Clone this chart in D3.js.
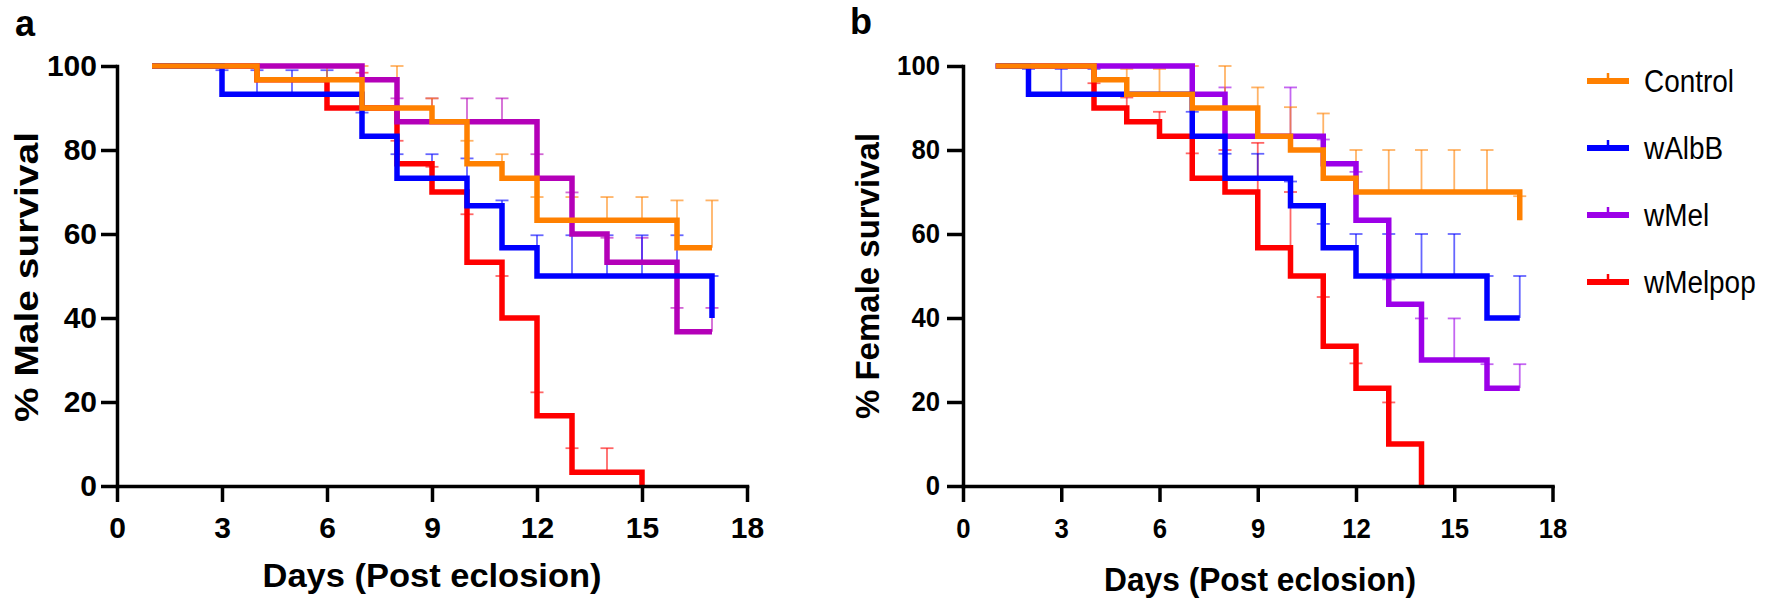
<!DOCTYPE html>
<html><head><meta charset="utf-8">
<script src="https://cdn.jsdelivr.net/npm/d3@7"></script>
<style>
body{margin:0;background:#fff}
svg{display:block}
text{font-family:"Liberation Sans",Arial,Helvetica,sans-serif;fill:#000}
</style>
</head><body>
<svg id="chart" width="1772" height="602"></svg>
<script>
// ---------- data ----------
const xTicks = [0, 3, 6, 9, 12, 15, 18];
const yTicks = [0, 20, 40, 60, 80, 100];
const groups = ["Control", "wAlbB", "wMel", "wMelpop"];

// Male survival (step points: [day, % surviving])
const maleControl = [[1,100],[4,96.7],[7,90],[9,86.7],[10,76.7],[11,73.3],[12,63.3],[16,56.7],[17,56.7]];
const maleWAlbB   = [[1,100],[3,93.3],[7,83.3],[8,73.3],[10,66.7],[11,56.7],[12,50],[17,40]];
const maleWMel    = [[1,100],[7,96.7],[8,86.7],[12,73.3],[13,60],[14,53.3],[16,36.7],[17,36.7]];
const maleWMelpop = [[1,100],[4,96.7],[6,90],[8,76.7],[9,70],[10,53.3],[11,40],[12,16.7],[13,3.3],[15,0]];
// Male error bar tops: [day, upper value]
const maleControlErr = [[6,100],[7,100],[8,100],[9,92.3],[10,82.2],[11,79],[12,68.8],[13,68.8],[14,68.8],[15,68.8],[16,68],[17,68]];
const maleWAlbBErr   = [[3,99],[4,99],[5,99],[6,99],[7,88.9],[8,79],[9,79],[10,78],[11,68],[12,59.7],[13,59.7],[14,59.7],[15,59.7],[16,59.7],[17,50]];
const maleWMelErr    = [[8,92.3],[9,92.3],[10,92.3],[11,92.3],[12,79],[13,69.9],[14,59.1],[15,59.1],[16,42.4],[17,42.4]];
const maleWMelpopErr = [[7,98.4],[8,82.2],[9,76],[10,64.7],[11,50],[12,22.3],[13,9],[14,9]];

// Female survival
const femaleControl = [[1,100],[4,96.7],[5,93.3],[7,90],[9,83.3],[10,80],[11,73.3],[12,70],[17,63.3]];
const femaleWAlbB   = [[1,100],[2,93.3],[7,83.3],[8,73.3],[10,66.7],[11,56.7],[12,50],[16,40],[17,40]];
const femaleWMel    = [[1,100],[7,93.3],[8,83.3],[11,76.7],[12,63.3],[13,43.3],[14,30],[16,23.3],[17,23.3]];
const femaleWMelpop = [[1,100],[4,90],[5,86.7],[6,83.3],[7,73.3],[8,70],[9,56.7],[10,50],[11,33.3],[12,23.3],[13,10],[14,0]];
const femaleControlErr = [[5,99.3],[6,99.3],[7,100],[8,100],[9,94.9],[10,90.2],[11,88.7],[12,80],[13,80],[14,80],[15,80],[16,80],[17,69]];
const femaleWAlbBErr   = [[2,99.3],[3,99.3],[4,99.3],[7,89.1],[8,79.1],[9,79.1],[10,72.5],[11,62.4],[12,60],[13,60],[14,60],[15,60],[16,50],[17,50]];
const femaleWMelErr    = [[8,94.9],[10,94.9],[11,82.5],[12,74.8],[13,49.2],[14,39.9],[15,39.9],[16,29],[17,29]];
const femaleWMelpopErr = [[4,95.9],[5,92.5],[6,89.1],[7,79.2],[8,80],[9,81.7],[10,70],[11,45],[12,29.2],[13,19.9]];

// ---------- drawing ----------
const svg = d3.select("#chart");
const colorsA = {Control:"#ff8000", wAlbB:"#0000ff", wMel:"#b400b8", wMelpop:"#ff0000"};
const colorsB = {Control:"#ff8000", wAlbB:"#0000ff", wMel:"#9c00e8", wMelpop:"#ff0000"};

const panels = [
  {label:"a", lx:15, ly:36, x0:117, x1:747, yTitle:"% Male survival", ytx:38, yFont:34, yLen:290, yMid:277,
   xtX:432, xtY:587, xtFont:34, xtLen:339, tickFont:30, narrow:false, colors:colorsA,
   series:{Control:maleControl, wAlbB:maleWAlbB, wMel:maleWMel, wMelpop:maleWMelpop},
   err:{Control:maleControlErr, wAlbB:maleWAlbBErr, wMel:maleWMelErr, wMelpop:maleWMelpopErr}},
  {label:"b", lx:850, ly:34, x0:963, x1:1552.5, yTitle:"% Female survival", ytx:879, yFont:33, yLen:null, yMid:276,
   xtX:1260, xtY:591, xtFont:33, xtLen:312, tickFont:28, narrow:true, colors:colorsB,
   series:{Control:femaleControl, wAlbB:femaleWAlbB, wMel:femaleWMel, wMelpop:femaleWMelpop},
   err:{Control:femaleControlErr, wAlbB:femaleWAlbBErr, wMel:femaleWMelErr, wMelpop:femaleWMelpopErr}}
];
const yTop = 66, yBot = 486;
const drawOrder = ["wMelpop", "wMel", "wAlbB", "Control"];

function valueAt(steps, d){
  let v = steps[0][1];
  for (const s of steps){ if (s[0] <= d + 1e-9) v = s[1]; }
  return v;
}

panels.forEach(p => {
  const x = d3.scaleLinear().domain([0, 18]).range([p.x0, p.x1]);
  const y = d3.scaleLinear().domain([0, 100]).range([yBot, yTop]);
  const g = svg.append("g");

  // error bars (under lines)
  drawOrder.forEach(k => {
    const steps = p.series[k];
    const col = p.colors[k];
    const eg = g.append("g").attr("stroke", col).attr("stroke-opacity", 0.6).attr("stroke-width", 1.8).attr("fill","none");
    p.err[k].forEach(e => {
      const base = valueAt(steps, e[0]);
      const xx = x(e[0]);
      eg.append("line").attr("x1", xx).attr("x2", xx).attr("y1", y(base)).attr("y2", y(e[1]));
      eg.append("line").attr("x1", xx - 6.5).attr("x2", xx + 6.5).attr("y1", y(e[1])).attr("y2", y(e[1]));
    });
  });

  // survival step lines
  const line = d3.line().x(d => x(d[0])).y(d => y(d[1])).curve(d3.curveStepAfter);
  drawOrder.forEach(k => {
    g.append("path").datum(p.series[k])
      .attr("d", line)
      .attr("fill", "none")
      .attr("stroke", p.colors[k])
      .attr("stroke-width", 5.5)
      .attr("stroke-linejoin", "miter")
      .attr("stroke-linecap", "butt");
  });

  // axes
  const ax = g.append("g").attr("transform", `translate(0,${yBot})`)
    .call(d3.axisBottom(x).tickValues(xTicks).tickSize(16).tickSizeOuter(0).tickPadding(p.narrow ? 16 : 15));
  const ay = g.append("g").attr("transform", `translate(${p.x0},0)`)
    .call(d3.axisLeft(y).tickValues(yTicks).tickSize(16).tickSizeOuter(0).tickPadding(p.narrow ? 7 : 4));
  [ax, ay].forEach(a => {
    a.select(".domain").attr("stroke", "#000").attr("stroke-width", 3.5).attr("stroke-linecap", "square");
    a.selectAll(".tick line").attr("stroke", "#000").attr("stroke-width", 3.5);
    a.selectAll(".tick text").attr("font-size", p.tickFont).attr("font-weight", "bold")
      .attr("font-family", '"Liberation Sans",Arial,sans-serif').attr("fill", "#000");
    if (p.narrow) {
      a.selectAll(".tick text").attr("textLength", d => String(d).length * 14.3).attr("lengthAdjust", "spacingAndGlyphs");
    }
  });

  // titles
  g.append("text").attr("x", p.lx).attr("y", p.ly).attr("font-size", 36).attr("font-weight", "bold").text(p.label);
  const yt = g.append("text").attr("transform", `translate(${p.ytx},${p.yMid}) rotate(-90)`)
    .attr("text-anchor", "middle").attr("font-size", p.yFont).attr("font-weight", "bold").text(p.yTitle);
  if (p.yLen) yt.attr("textLength", p.yLen).attr("lengthAdjust", "spacingAndGlyphs");
  const xt = g.append("text").attr("x", p.xtX).attr("y", p.xtY).attr("text-anchor", "middle")
    .attr("font-size", p.xtFont).attr("font-weight", "bold").text("Days (Post eclosion)");
  if (p.xtLen) xt.attr("textLength", p.xtLen).attr("lengthAdjust", "spacingAndGlyphs");
});

// legend
const legendY = d3.scalePoint().domain(groups).range([81, 282]);
const lg = svg.append("g");
groups.forEach(k => {
  const yy = legendY(k);
  lg.append("line").attr("x1", 1587).attr("x2", 1629).attr("y1", yy).attr("y2", yy)
    .attr("stroke", colorsB[k]).attr("stroke-width", 6);
  lg.append("line").attr("x1", 1608).attr("x2", 1608).attr("y1", yy - 8).attr("y2", yy)
    .attr("stroke", colorsB[k]).attr("stroke-width", 2.5);
  const t = lg.append("text").attr("x", 1644).attr("y", yy).attr("dy", "0.35em")
    .attr("font-size", 31).text(k);
  const w = t.node().getComputedTextLength();
  t.attr("textLength", w * 0.9).attr("lengthAdjust", "spacingAndGlyphs");
});
</script>
</body></html>
